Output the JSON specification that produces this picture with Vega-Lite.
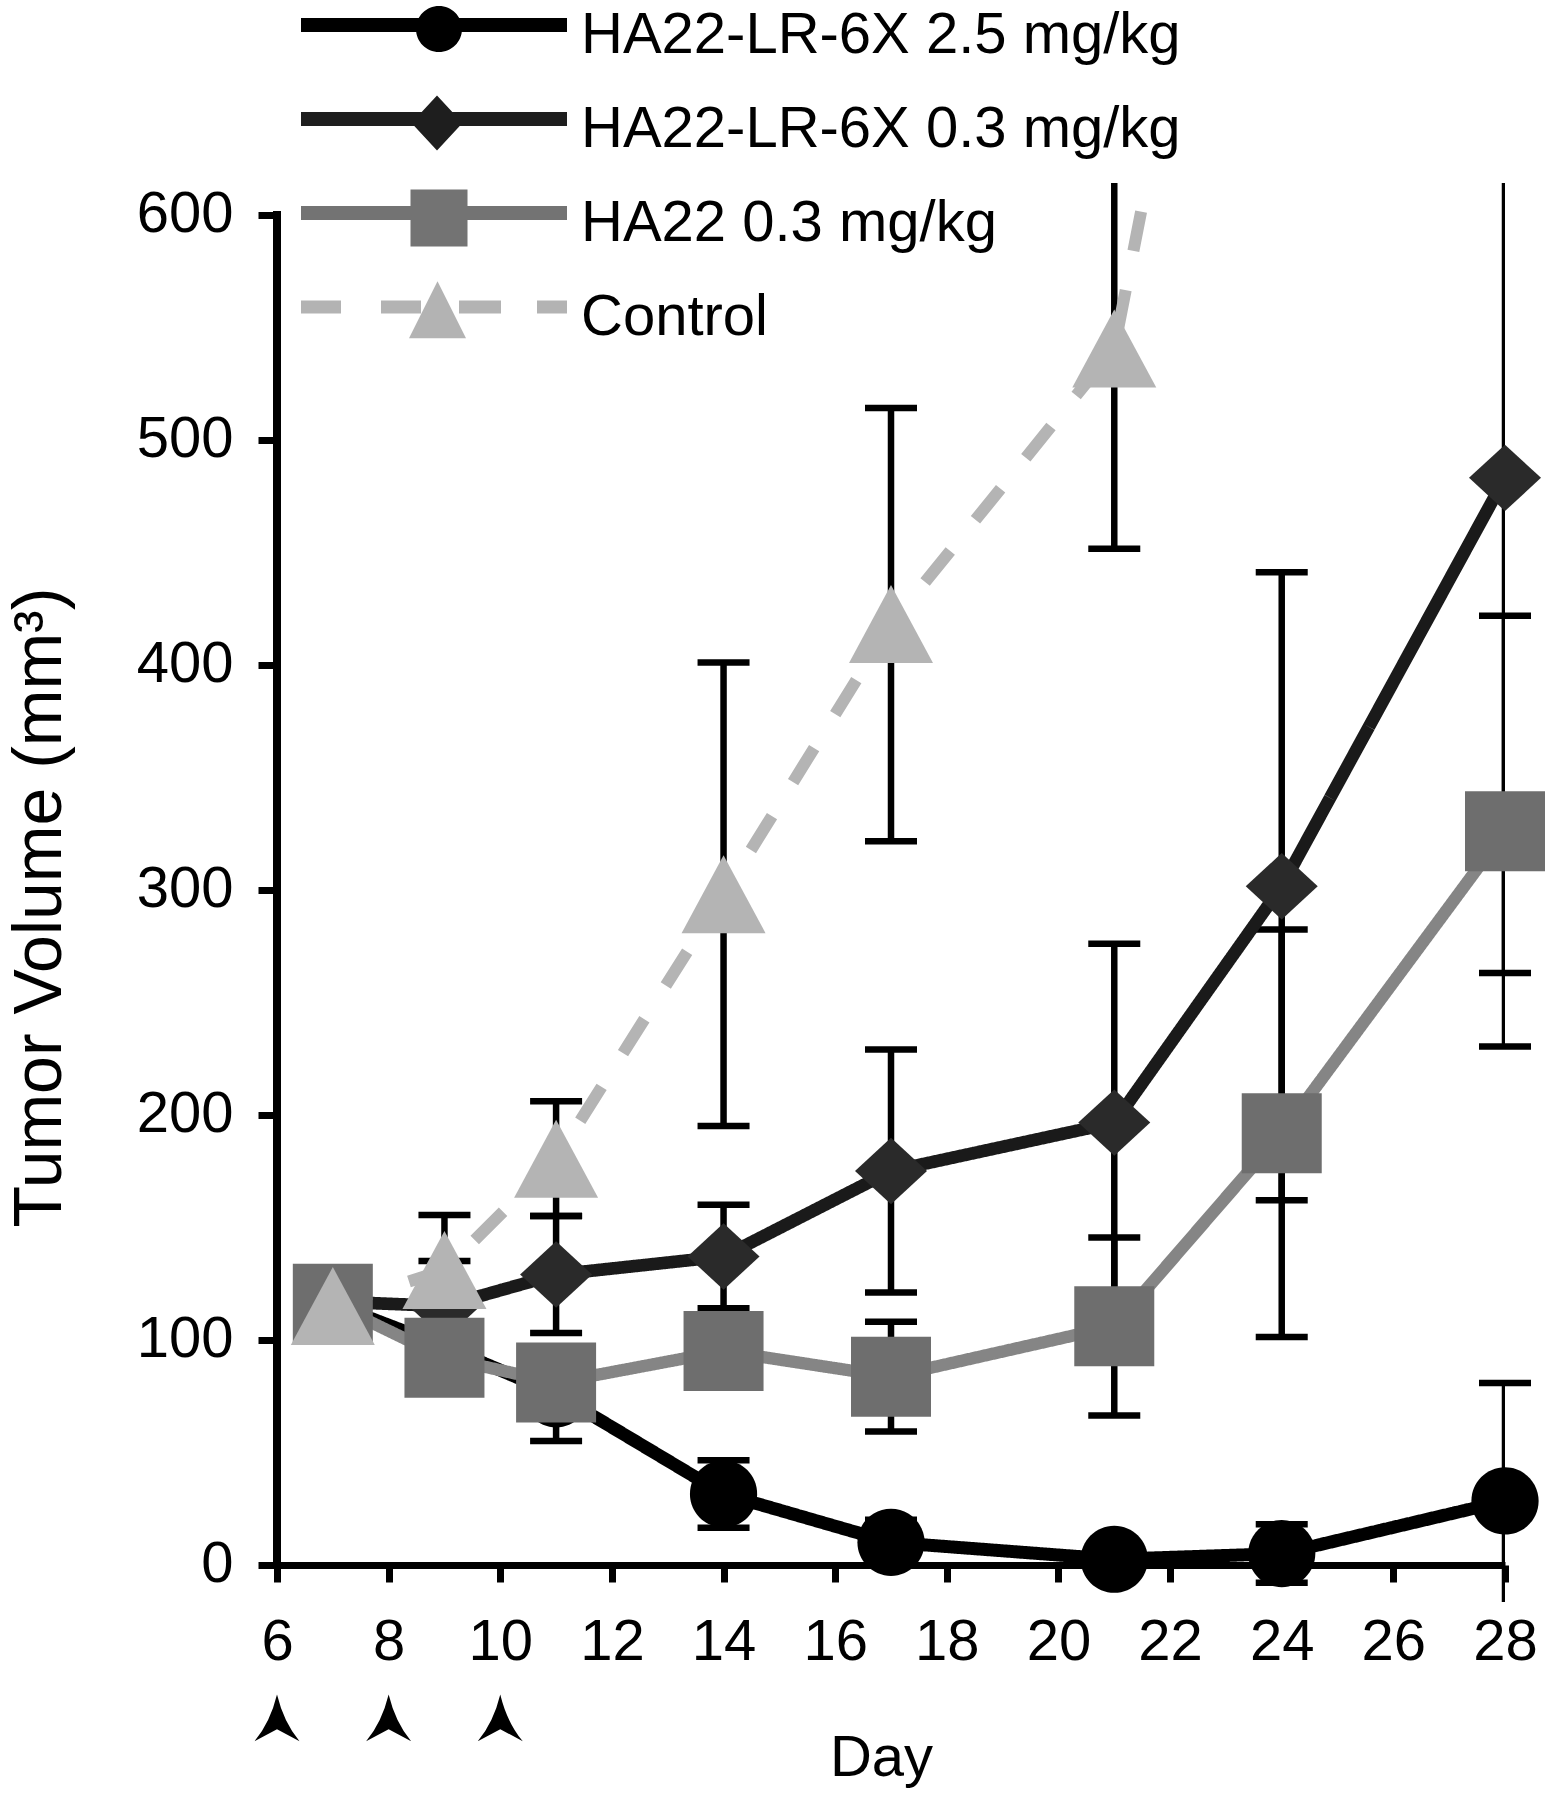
{
  "$schema": "https://vega.github.io/schema/vega-lite/v6.json",
  "autosize": {"type": "none"},
  "width": 1228,
  "height": 1419,
  "padding": {"left": 277, "top": 183, "right": 47, "bottom": 198},
  "background": "white",
  "config": {
    "font": "Liberation Sans",
    "view": {"stroke": null},
    "axisX": {
      "grid": false, "tickCount": 11,
      "domainColor": "black", "domainWidth": 7,
      "tickColor": "black", "tickWidth": 7, "tickSize": 17,
      "labelFontSize": 58, "labelColor": "black", "labelPadding": 31, "labelFlush": false, "labelOverlap": false,
      "offset": -37,
      "titleFontSize": 58, "titleFontWeight": "normal", "titleColor": "black",
      "titleBaseline": "alphabetic", "titleAlign": "center", "titleY": 210, "titleX": 604
    },
    "axisY": {
      "grid": false, "tickCount": 7,
      "domain": false,
      "tickColor": "black", "tickWidth": 7, "tickSize": 19,
      "labelFontSize": 58, "labelColor": "black", "labelPadding": 25, "labelFlush": false, "labelOverlap": false,
      "titleFontSize": 68, "titleFontWeight": "normal", "titleColor": "black",
      "titleAngle": -90, "titleBaseline": "alphabetic", "titleAlign": "center", "titleX": -217, "titleY": 724
    }
  },
  "data": {
    "values": [
      {"series": "HA22-LR-6X 2.5 mg/kg", "day": 7, "mean": 116, "low": 109, "high": 123},
      {"series": "HA22-LR-6X 2.5 mg/kg", "day": 9, "mean": 97, "low": 88, "high": 106},
      {"series": "HA22-LR-6X 2.5 mg/kg", "day": 11, "mean": 76, "low": 55, "high": 97},
      {"series": "HA22-LR-6X 2.5 mg/kg", "day": 14, "mean": 31.5, "low": 16.5, "high": 46.5},
      {"series": "HA22-LR-6X 2.5 mg/kg", "day": 17, "mean": 10, "low": 0, "high": 20},
      {"series": "HA22-LR-6X 2.5 mg/kg", "day": 21, "mean": 2.5, "low": -1, "high": 6},
      {"series": "HA22-LR-6X 2.5 mg/kg", "day": 24, "mean": 5, "low": -8, "high": 18},
      {"series": "HA22-LR-6X 2.5 mg/kg", "day": 28, "mean": 28.4, "low": -24, "high": 80.8},
      {"series": "HA22-LR-6X 0.3 mg/kg", "day": 7, "mean": 117, "low": 110, "high": 124},
      {"series": "HA22-LR-6X 0.3 mg/kg", "day": 9, "mean": 115, "low": 95, "high": 135},
      {"series": "HA22-LR-6X 0.3 mg/kg", "day": 11, "mean": 129, "low": 103, "high": 155},
      {"series": "HA22-LR-6X 0.3 mg/kg", "day": 14, "mean": 137, "low": 114, "high": 160},
      {"series": "HA22-LR-6X 0.3 mg/kg", "day": 17, "mean": 175, "low": 121, "high": 229},
      {"series": "HA22-LR-6X 0.3 mg/kg", "day": 21, "mean": 196.5, "low": 117, "high": 276},
      {"series": "HA22-LR-6X 0.3 mg/kg", "day": 24, "mean": 301.5, "low": 162, "high": 441},
      {"series": "HA22-LR-6X 0.3 mg/kg", "day": 28, "mean": 483, "low": 263, "high": 703},
      {"series": "HA22 0.3 mg/kg", "day": 7, "mean": 116, "low": 108, "high": 124},
      {"series": "HA22 0.3 mg/kg", "day": 9, "mean": 92, "low": 80, "high": 104},
      {"series": "HA22 0.3 mg/kg", "day": 11, "mean": 81, "low": 68, "high": 94},
      {"series": "HA22 0.3 mg/kg", "day": 14, "mean": 95, "low": 82, "high": 108},
      {"series": "HA22 0.3 mg/kg", "day": 17, "mean": 83.6, "low": 59.3, "high": 108},
      {"series": "HA22 0.3 mg/kg", "day": 21, "mean": 106, "low": 66.4, "high": 145.5},
      {"series": "HA22 0.3 mg/kg", "day": 24, "mean": 191.8, "low": 101.3, "high": 282.3},
      {"series": "HA22 0.3 mg/kg", "day": 28, "mean": 326, "low": 230.3, "high": 421.7},
      {"series": "Control", "day": 7, "mean": 115, "low": 107, "high": 123},
      {"series": "Control", "day": 9, "mean": 131, "low": 107, "high": 155.5},
      {"series": "Control", "day": 11, "mean": 180.4, "low": 155, "high": 206},
      {"series": "Control", "day": 14, "mean": 298, "low": 195, "high": 401},
      {"series": "Control", "day": 17, "mean": 418, "low": 321.5, "high": 514},
      {"series": "Control", "day": 21, "mean": 540.5, "low": 451.5, "high": 629.5},
      {"series": "Control", "day": 24, "mean": 920, "low": null, "high": null}
    ]
  },
  "layer": [
    {
      "mark": {"type": "rule", "color": "black", "strokeWidth": 6.5, "clip": true},
      "encoding": {
        "x": {"field": "day", "type": "quantitative", "title": "Day", "scale": {"domain": [6, 28], "nice": false, "zero": false}},
        "y": {"field": "low", "type": "quantitative", "title": "Tumor Volume (mm³)", "scale": {"domain": [-16.5, 614], "nice": false, "zero": false}},
        "y2": {"field": "high"}
      }
    },
    {
      "transform": [{"filter": "datum.low != null && datum.low >= -16.5"}],
      "mark": {"type": "tick", "orient": "horizontal", "color": "black", "size": 52, "thickness": 6.5, "opacity": 1},
      "encoding": {
        "x": {"field": "day", "type": "quantitative", "title": "Day", "scale": {"domain": [6, 28], "nice": false, "zero": false}},
        "y": {"field": "low", "type": "quantitative", "title": "Tumor Volume (mm³)", "scale": {"domain": [-16.5, 614], "nice": false, "zero": false}}
      }
    },
    {
      "transform": [{"filter": "datum.high != null && datum.high <= 614"}],
      "mark": {"type": "tick", "orient": "horizontal", "color": "black", "size": 52, "thickness": 6.5, "opacity": 1},
      "encoding": {
        "x": {"field": "day", "type": "quantitative", "title": "Day", "scale": {"domain": [6, 28], "nice": false, "zero": false}},
        "y": {"field": "high", "type": "quantitative", "title": "Tumor Volume (mm³)", "scale": {"domain": [-16.5, 614], "nice": false, "zero": false}}
      }
    },
    {
      "mark": {"type": "rule", "color": "black", "strokeWidth": 7, "strokeCap": "square"},
      "encoding": {
        "x": {"datum": 6, "title": "Day", "scale": {"domain": [6, 28], "nice": false, "zero": false}},
        "y": {"datum": 0, "title": "Tumor Volume (mm³)", "scale": {"domain": [-16.5, 614], "nice": false, "zero": false}},
        "y2": {"datum": 600}
      }
    },
    {
      "mark": {"type": "line", "clip": true},
      "encoding": {
        "x": {"field": "day", "type": "quantitative", "title": "Day", "scale": {"domain": [6, 28], "nice": false, "zero": false}},
        "y": {"field": "mean", "type": "quantitative", "title": "Tumor Volume (mm³)", "scale": {"domain": [-16.5, 614], "nice": false, "zero": false}},
        "color": {
          "field": "series", "type": "nominal",
          "scale": {"domain": ["HA22-LR-6X 2.5 mg/kg", "HA22-LR-6X 0.3 mg/kg", "HA22 0.3 mg/kg", "Control"], "range": ["#000000", "#1a1a1a", "#858585", "#b4b4b4"]},
          "legend": {
            "orient": "none", "legendX": 128, "legendY": -187, "title": null, "direction": "vertical",
            "symbolSize": 2500, "symbolStrokeWidth": 0, "labelOffset": 118, "rowPadding": 25,
            "labelFontSize": 58, "labelFont": "Liberation Sans", "labelColor": "black", "labelLimit": 1000, "padding": 0,
            "encoding": {
              "symbols": {
                "shape": {"value": {"expr": "datum.value === 'HA22-LR-6X 2.5 mg/kg' ? 'M-5.32,-0.28H5.32V0.28H-5.32Z M-0.72,0.16A0.92,0.92 0 1,1 1.12,0.16A0.92,0.92 0 1,1 -0.72,0.16Z' : datum.value === 'HA22-LR-6X 0.3 mg/kg' ? 'M-5.32,-0.28H5.32V0.28H-5.32Z M0.12,-0.94L1.14,0.16L0.12,1.26L-0.9,0.16Z' : datum.value === 'HA22 0.3 mg/kg' ? 'M-5.32,-0.28H5.32V0.28H-5.32Z M-0.94,-0.94H1.34V1.34H-0.94Z' : 'M-5.32,-0.26H-3.72V0.26H-5.32Z M-2.12,-0.26H-0.52V0.26H-2.12Z M1.0,-0.26H2.68V0.26H1.0Z M4.12,-0.26H5.32V0.26H4.12Z M0.14,-1.03L1.28,1.25H-1.0Z'"}},
                "fill": {"value": {"expr": "datum.value === 'HA22-LR-6X 2.5 mg/kg' ? '#000000' : datum.value === 'HA22-LR-6X 0.3 mg/kg' ? '#1e1e1e' : datum.value === 'HA22 0.3 mg/kg' ? '#737373' : '#b3b3b3'"}},
                "stroke": {"value": "transparent"},
                "strokeWidth": {"value": 0},
                "opacity": {"value": 1}
              },
              "labels": {"dy": {"value": 11}}
            }
          }
        },
        "strokeWidth": {
          "field": "series", "type": "nominal",
          "scale": {"domain": ["HA22-LR-6X 2.5 mg/kg", "HA22-LR-6X 0.3 mg/kg", "HA22 0.3 mg/kg", "Control"], "range": [13, 12, 9, 11]},
          "legend": null
        },
        "strokeDash": {
          "field": "series", "type": "nominal",
          "scale": {"domain": ["HA22-LR-6X 2.5 mg/kg", "HA22-LR-6X 0.3 mg/kg", "HA22 0.3 mg/kg", "Control"], "range": [[1, 0], [1, 0], [1, 0], [40, 40]]},
          "legend": null
        }
      }
    },
    {
      "transform": [{"filter": "datum.mean <= 614"}],
      "mark": {"type": "point", "filled": true, "opacity": 1, "size": 6400, "strokeWidth": 0},
      "encoding": {
        "x": {"field": "day", "type": "quantitative", "title": "Day", "scale": {"domain": [6, 28], "nice": false, "zero": false}},
        "y": {"field": "mean", "type": "quantitative", "title": "Tumor Volume (mm³)", "scale": {"domain": [-16.5, 614], "nice": false, "zero": false}},
        "color": {
          "field": "series", "type": "nominal",
          "scale": {"domain": ["HA22-LR-6X 2.5 mg/kg", "HA22-LR-6X 0.3 mg/kg", "HA22 0.3 mg/kg", "Control"], "range": ["#000000", "#2a2a2a", "#6e6e6e", "#b4b4b4"]},
          "legend": null
        },
        "shape": {
          "field": "series", "type": "nominal",
          "scale": {"domain": ["HA22-LR-6X 2.5 mg/kg", "HA22-LR-6X 0.3 mg/kg", "HA22 0.3 mg/kg", "Control"], "range": ["M-0.84,0A0.84,0.84 0 1,1 0.84,0A0.84,0.84 0 1,1 -0.84,0Z", "M0,-0.83L0.9,0L0,0.83L-0.9,0Z", "M-1,-1H1V1H-1Z", "M0,-0.975L1.05,0.975H-1.05Z"]},
          "legend": null
        }
      }
    },
    {
      "data": {"values": [{"dose_day": 6}, {"dose_day": 8}, {"dose_day": 10}]},
      "mark": {"type": "point", "filled": true, "opacity": 1, "size": 2025, "strokeWidth": 0, "color": "black", "shape": "M0,-1.04Q0.3,0.2 1,1.04L0,0.5L-1,1.04Q-0.3,0.2 0,-1.04Z"},
      "encoding": {
        "x": {"field": "dose_day", "type": "quantitative", "title": "Day", "scale": {"domain": [6, 28], "nice": false, "zero": false}},
        "y": {"datum": -68, "title": "Tumor Volume (mm³)", "scale": {"domain": [-16.5, 614], "nice": false, "zero": false}}
      }
    }
  ],
  "resolve": {"scale": {"color": "independent"}}
}
